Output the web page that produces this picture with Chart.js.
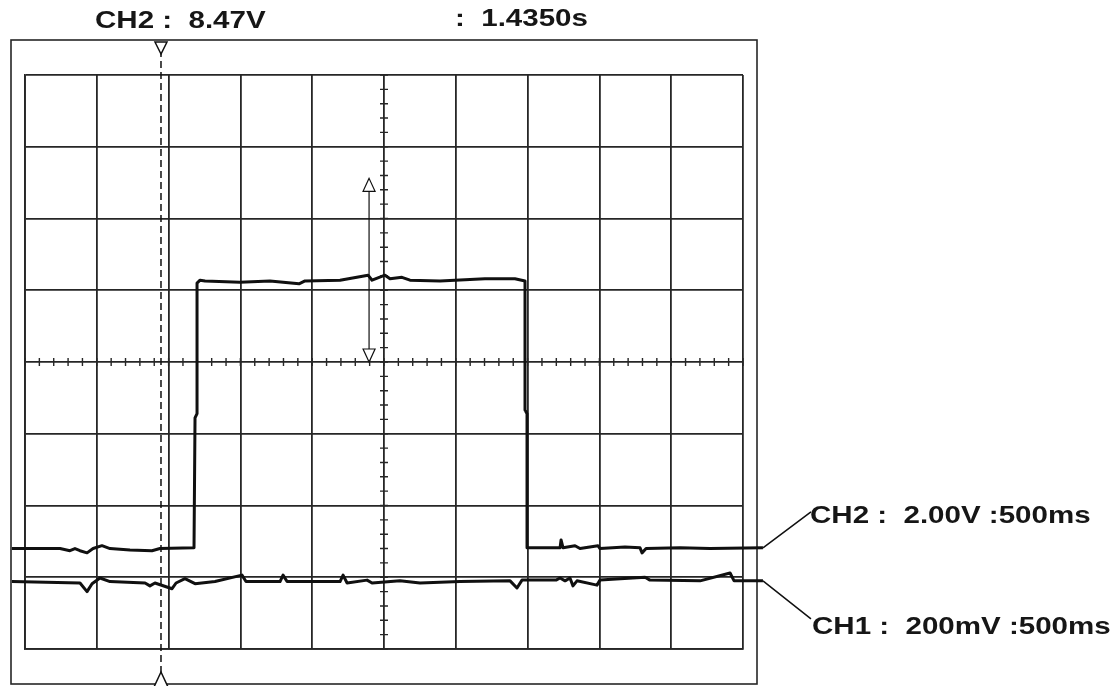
<!DOCTYPE html>
<html>
<head>
<meta charset="utf-8">
<script src="https://cdn.jsdelivr.net/npm/chart.js@4/dist/chart.umd.min.js"></script>
<style>
  body { margin: 0; background: #fff; }
  #wrap { position: relative; width: 1120px; height: 686px; overflow: hidden; }
  #scope { position: absolute; left: 0; top: 0; }
  .lbl {
    position: absolute;
    font-family: 'Liberation Sans', Arial, sans-serif;
    font-weight: bold;
    font-size: 24px;
    line-height: 24px;
    color: #161616;
    white-space: pre;
    transform: scaleX(1.23);
    transform-origin: left top;
  }
</style>
</head>
<body>
<div id="wrap">
  <canvas id="scope" width="1120" height="686"></canvas>
  <div class="lbl" style="left:95px; top:8px;">CH2 :  8.47V</div>
  <div class="lbl" style="left:455px; top:6px;">:  1.4350s</div>
  <div class="lbl" style="left:810px; top:503px;">CH2 :  2.00V :500ms</div>
  <div class="lbl" style="left:812px; top:614px;">CH1 :  200mV :500ms</div>
</div>
<script>
// time in ms (500 ms / div, 10 div), level in divisions (8 div)
const ch2Time = [-91, 244, 313, 348, 383, 432, 474, 536, 592, 731, 884, 940, 1177, 1184, 1198, 1198, 1219, 1254, 1497, 1706, 1908, 1950, 2194, 2389, 2417, 2507, 2542, 2625, 2681, 2890, 3203, 3412, 3482, 3482, 3496, 3496, 3621, 3726, 3733, 3747, 3830, 3865, 3990, 4004, 4178, 4283, 4297, 4325, 4561, 4770, 5139];
const ch2Level = [-2.60, -2.60, -2.63, -2.60, -2.63, -2.66, -2.60, -2.56, -2.60, -2.62, -2.63, -2.60, -2.59, -0.78, -0.72, 1.10, 1.14, 1.13, 1.11, 1.13, 1.09, 1.13, 1.14, 1.21, 1.14, 1.21, 1.16, 1.18, 1.14, 1.13, 1.16, 1.16, 1.13, -0.67, -0.72, -2.59, -2.59, -2.59, -2.48, -2.59, -2.56, -2.60, -2.56, -2.60, -2.58, -2.59, -2.66, -2.60, -2.59, -2.60, -2.59];

const ch1Time = [-91, 383, 432, 467, 522, 592, 836, 870, 905, 1024, 1052, 1114, 1184, 1323, 1511, 1539, 1776, 1797, 1825, 2194, 2215, 2243, 2382, 2417, 2611, 2751, 3029, 3378, 3426, 3461, 3698, 3726, 3761, 3795, 3816, 3844, 3983, 4004, 4318, 4352, 4701, 4910, 4938, 5139];
const ch1Level = [-3.06, -3.08, -3.20, -3.09, -3.01, -3.06, -3.08, -3.12, -3.08, -3.16, -3.08, -3.02, -3.09, -3.06, -2.97, -3.06, -3.06, -2.97, -3.06, -3.06, -2.97, -3.08, -3.04, -3.08, -3.05, -3.08, -3.06, -3.05, -3.15, -3.04, -3.04, -3.01, -3.05, -3.01, -3.12, -3.05, -3.11, -3.04, -3.00, -3.04, -3.05, -2.94, -3.05, -3.05];

const timeTicks = [0, 500, 1000, 1500, 2000, 2500, 3000, 3500, 4000, 4500, 5000];
const divTicks = [-4, -3, -2, -1, 0, 1, 2, 3, 4];

const cursorTime = 947;
const arrowTime = 2396;
const arrowFrom = 2.56;
const arrowTo = 0;

const ink = '#101010';
const gridInk = '#262626';

function toPoints(xs, ys) {
    return xs.map((x, i) => ({ x: x, y: ys[i] }));
}

function endDot(ctx) {
    return ctx.dataIndex === ctx.dataset.data.length - 1 ? 4.5 : 0;
}

function hollowTri(ctx, x, tipY, baseY, half) {
    ctx.beginPath();
    ctx.moveTo(x, tipY);
    ctx.lineTo(x - half, baseY);
    ctx.lineTo(x + half, baseY);
    ctx.closePath();
    ctx.fillStyle = '#fff';
    ctx.fill();
    ctx.stroke();
}

const scopeDecor = {
    id: 'scopeDecor',
    beforeDatasetsDraw(chart) {
        const ctx = chart.ctx;
        const a = chart.chartArea;
        const xs = chart.scales.x;
        const ys = chart.scales.y;
        ctx.save();
        ctx.strokeStyle = gridInk;
        ctx.lineWidth = 1.6;
        // outer frame
        ctx.strokeRect(a.left - 14, a.top - 35, a.right - a.left + 28, a.bottom - a.top + 70);
        // minor ticks on the centre cross
        const y0 = ys.getPixelForValue(0);
        const xc = xs.getPixelForValue(2500);
        ctx.lineWidth = 1.4;
        ctx.beginPath();
        for (let t = 0; t <= 5000; t += 100) {
            const px = xs.getPixelForValue(t);
            ctx.moveTo(px, y0 - 4);
            ctx.lineTo(px, y0 + 4);
        }
        for (let d = -4; d <= 4.001; d += 0.2) {
            const py = ys.getPixelForValue(d);
            ctx.moveTo(xc - 4, py);
            ctx.lineTo(xc + 4, py);
        }
        ctx.stroke();
        ctx.restore();
    },
    afterDatasetsDraw(chart) {
        const ctx = chart.ctx;
        const a = chart.chartArea;
        const xs = chart.scales.x;
        const ys = chart.scales.y;
        const frameTop = a.top - 35;
        const frameBottom = a.bottom + 35;
        ctx.save();
        ctx.strokeStyle = ink;
        ctx.lineWidth = 1.5;

        // time cursor
        const cx = xs.getPixelForValue(cursorTime);
        ctx.setLineDash([7, 4]);
        ctx.beginPath();
        ctx.moveTo(cx, frameTop + 10);
        ctx.lineTo(cx, frameBottom - 10);
        ctx.stroke();
        ctx.setLineDash([]);
        hollowTri(ctx, cx, frameTop + 14, frameTop + 2, 6);
        hollowTri(ctx, cx, frameBottom - 12, frameBottom + 3, 7);

        // voltage cursor arrow
        const ax = xs.getPixelForValue(arrowTime);
        const ay1 = ys.getPixelForValue(arrowFrom);
        const ay2 = ys.getPixelForValue(arrowTo);
        ctx.lineWidth = 1.2;
        ctx.beginPath();
        ctx.moveTo(ax, ay1 + 12);
        ctx.lineTo(ax, ay2 - 12);
        ctx.stroke();
        hollowTri(ctx, ax, ay1, ay1 + 13, 6);
        hollowTri(ctx, ax, ay2, ay2 - 13, 6);

        // leader lines to the channel labels
        ctx.lineWidth = 1.5;
        const m2 = chart.getDatasetMeta(0).data;
        const m1 = chart.getDatasetMeta(1).data;
        const p2 = m2[m2.length - 1];
        const p1 = m1[m1.length - 1];
        ctx.beginPath();
        ctx.moveTo(p2.x, p2.y);
        ctx.lineTo(p2.x + 48, p2.y - 36);
        ctx.moveTo(p1.x, p1.y);
        ctx.lineTo(p1.x + 48, p1.y + 38);
        ctx.stroke();
        ctx.restore();
    }
};

const axisGrid = {
    color: gridInk,
    lineWidth: 1.8,
    drawTicks: false
};

new Chart(document.getElementById('scope'), {
    type: 'line',
    data: {
        datasets: [{
            label: 'CH2',
            data: toPoints(ch2Time, ch2Level),
            borderColor: ink,
            backgroundColor: ink,
            borderWidth: 3,
            borderJoinStyle: 'round',
            pointRadius: endDot,
            pointBackgroundColor: ink,
            pointBorderWidth: 0,
            tension: 0,
            clip: false
        }, {
            label: 'CH1',
            data: toPoints(ch1Time, ch1Level),
            borderColor: ink,
            backgroundColor: ink,
            borderWidth: 3,
            borderJoinStyle: 'round',
            pointRadius: endDot,
            pointBackgroundColor: ink,
            pointBorderWidth: 0,
            tension: 0,
            clip: false
        }]
    },
    options: {
        responsive: false,
        animation: false,
        events: [],
        layout: {
            padding: { left: 25, right: 377, top: 75, bottom: 37 }
        },
        scales: {
            x: {
                type: 'linear',
                min: timeTicks[0],
                max: timeTicks[timeTicks.length - 1],
                afterBuildTicks: scale => { scale.ticks = timeTicks.map(v => ({ value: v })); },
                ticks: { display: false },
                grid: axisGrid,
                border: { display: true, color: gridInk, width: 1.8 }
            },
            y: {
                type: 'linear',
                min: divTicks[0],
                max: divTicks[divTicks.length - 1],
                afterBuildTicks: scale => { scale.ticks = divTicks.map(v => ({ value: v })); },
                ticks: { display: false },
                grid: axisGrid,
                border: { display: true, color: gridInk, width: 1.8 }
            }
        },
        plugins: {
            legend: { display: false },
            tooltip: { enabled: false }
        }
    },
    plugins: [scopeDecor]
});
</script>
</body>
</html>
